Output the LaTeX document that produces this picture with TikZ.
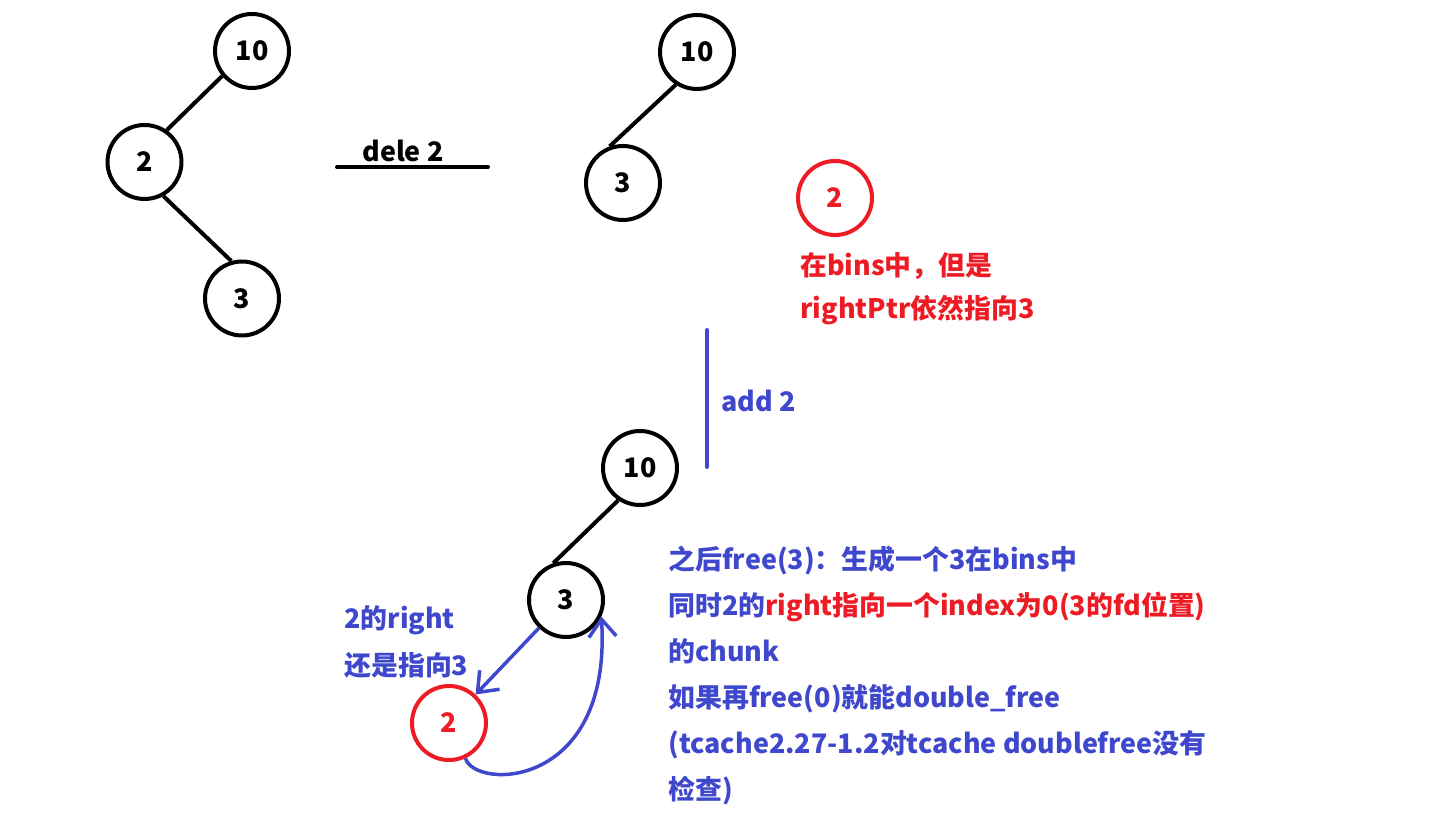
\documentclass[tikz,border=0pt]{standalone}
\usepackage{fontspec}
\setmainfont{Noto Sans CJK SC}
\usetikzlibrary{arrows.meta}
\definecolor{inkblue}{RGB}{63,72,204}
\definecolor{inkred}{RGB}{237,28,36}

\begin{document}
\begin{tikzpicture}[x=0.02cm, y=-0.02cm,
        every node/.style={font=\bfseries\fontsize{15.3}{18}\selectfont},
        vertex/.style={circle, draw, line width=0.08cm, minimum size=1.48cm, inner sep=0pt},
        freed/.style={vertex, draw=inkred, text=inkred},
        edge/.style={line width=0.08cm},
        note/.style={anchor=base west, inner sep=0pt},
        pointer/.style={inkblue, line width=0.07cm, -{Straight Barb[length=0.35cm, width=0.55cm]}}]
        \useasboundingbox (0,0) rectangle (1442,813);

        \node[vertex] (a10) at (252,51) {10};
        \node[vertex] (a2) at (144.5,162) {2};
        \node[vertex] (a3) at (242,298.5) {3};
        \draw[edge] (a10.220) -- (a2.55);
        \draw[edge] (a2.-61) -- (a3.106);

        \node[note] (dele) at (362,162) {dele 2};
        \coordinate (deleL) at (337,167);
        \coordinate (deleR) at (488,167);
        \draw[edge, line cap=round] (deleL) -- (deleR);

        \node[vertex] (b10) at (697,52) {10};
        \node[vertex] (b3) at (623,183) {3};
        \draw[edge] (b10.237) -- (b3.110);

        \node[freed] (b2) at (835,198) {2};
        \node[note, text=inkred] (binsA) at (800,276) {在bins中，但是};
        \node[note, text=inkred] (binsB) at (800,319) {rightPtr依然指向3};

        \coordinate (addT) at (707,330);
        \coordinate (addB) at (707,467);
        \draw[edge, inkblue, line cap=round] (addT) -- (addB);
        \node[note, text=inkblue] (add) at (721,412) {add 2};

        \node[vertex] (c10) at (640,468) {10};
        \node[vertex] (c3) at (566,600) {3};
        \node[freed] (c2) at (449,723) {2};
        \draw[edge] (c10.236) -- (c3.109);

        \draw[pointer] (c3.226) -- (c2.47);
        \draw[pointer] (c2.-65) .. controls (475,790) and (612,790) .. (c3.-25);

        \node[note, text=inkblue] (rightA) at (344,628) {2的right};
        \node[note, text=inkblue] (rightB) at (344,675) {还是指向3};

        \node[note, text=inkblue] (line1) at (668,569) {之后free(3)：生成一个3在bins中};
        \node[note, text=inkblue] (line2) at (668,615) {同时2的\textcolor{inkred}{right指向一个index为0(3的fd位置)}};
        \node[note, text=inkblue] (line3) at (668,661) {的chunk};
        \node[note, text=inkblue] (line4) at (668,707) {如果再free(0)就能double\_free};
        \node[note, text=inkblue] (line5) at (668,753) {(tcache2.27-1.2对tcache doublefree没有};
        \node[note, text=inkblue] (line6) at (668,799) {检查)};
\end{tikzpicture}
\end{document}
